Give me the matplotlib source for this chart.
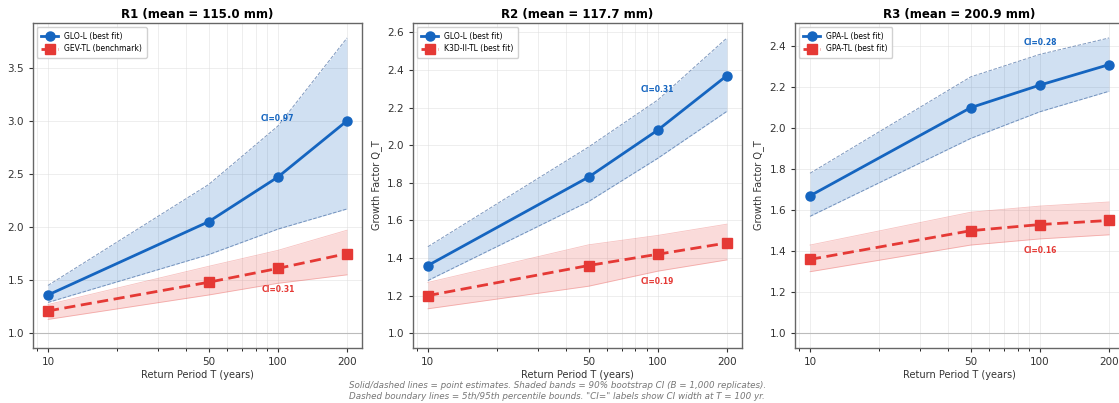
import matplotlib
matplotlib.use("Agg")
import matplotlib.pyplot as plt
from matplotlib.ticker import FixedLocator, NullFormatter, FixedFormatter

# Return periods
T = [10, 50, 100, 200]

# Panel titles / model names
titles = ["R1 (mean = 115.0 mm)", "R2 (mean = 117.7 mm)", "R3 (mean = 200.9 mm)"]
best_names = ["GLO-L (best fit)", "GLO-L (best fit)", "GPA-L (best fit)"]
other_names = ["GEV-TL (benchmark)", "K3D-II-TL (best fit)", "GPA-TL (best fit)"]

# L-moment fits (point estimate, 5th and 95th percentile)
r1_l = [1.36, 2.05, 2.47, 3.00]
r1_l_lo = [1.29, 1.74, 1.98, 2.17]
r1_l_hi = [1.45, 2.40, 2.95, 3.78]
r2_l = [1.36, 1.83, 2.08, 2.37]
r2_l_lo = [1.28, 1.70, 1.93, 2.18]
r2_l_hi = [1.46, 1.99, 2.24, 2.57]
r3_l = [1.67, 2.10, 2.21, 2.31]
r3_l_lo = [1.57, 1.95, 2.08, 2.18]
r3_l_hi = [1.78, 2.25, 2.36, 2.44]

# TL-moment fits
r1_tl = [1.21, 1.48, 1.61, 1.75]
r1_tl_lo = [1.13, 1.36, 1.47, 1.55]
r1_tl_hi = [1.27, 1.63, 1.78, 1.97]
r2_tl = [1.20, 1.36, 1.42, 1.48]
r2_tl_lo = [1.13, 1.25, 1.33, 1.39]
r2_tl_hi = [1.27, 1.47, 1.52, 1.58]
r3_tl = [1.36, 1.50, 1.53, 1.55]
r3_tl_lo = [1.30, 1.43, 1.46, 1.48]
r3_tl_hi = [1.43, 1.59, 1.62, 1.64]

l_fits = [(r1_l, r1_l_lo, r1_l_hi), (r2_l, r2_l_lo, r2_l_hi), (r3_l, r3_l_lo, r3_l_hi)]
tl_fits = [(r1_tl, r1_tl_lo, r1_tl_hi), (r2_tl, r2_tl_lo, r2_tl_hi), (r3_tl, r3_tl_lo, r3_tl_hi)]

BLUE = "#1565C0"
RED = "#E53935"

fig = plt.figure(figsize=(11.19, 4.03), dpi=100)
lefts = [0.0295, 0.369, 0.7105]

for i in range(3):
    ax = fig.add_axes([lefts[i], 0.1365, 0.294, 0.806])
    mid, lo, hi = l_fits[i]
    tmid, tlo, thi = tl_fits[i]

    ax.axhline(1.0, color="#bbbbbb", lw=0.8, zorder=1)

    ax.fill_between(T, lo, hi, color=BLUE, alpha=0.2, lw=0, zorder=2)
    ax.plot(T, lo, "--", color="#4a6fa5", alpha=0.7, lw=0.7, zorder=2)
    ax.plot(T, hi, "--", color="#4a6fa5", alpha=0.7, lw=0.7, zorder=2)
    ax.fill_between(T, tlo, thi, color=RED, alpha=0.18, lw=0, zorder=2)
    ax.plot(T, tlo, "-", color=RED, alpha=0.3, lw=0.6, zorder=2)
    ax.plot(T, thi, "-", color=RED, alpha=0.3, lw=0.6, zorder=2)

    ax.plot(T, mid, "-o", color=BLUE, lw=2, ms=6.5, label=best_names[i], zorder=4)
    ax.plot(T, tmid, "--s", color=RED, lw=2, ms=6.5, dashes=(4, 2),
            label=other_names[i], zorder=4)

    # CI width labels at T = 100
    k = T.index(100)
    ax.text(100, hi[k] * 1.025, "CI=%.2f" % (hi[k] - lo[k]), color=BLUE,
            fontsize=5.5, fontweight="bold", ha="center", va="center", zorder=5)
    ax.text(100, tlo[k] * 0.96, "CI=%.2f" % (thi[k] - tlo[k]), color=RED,
            fontsize=5.5, fontweight="bold", ha="center", va="center", zorder=5)

    ax.set_xscale("log")
    ax.xaxis.set_major_locator(FixedLocator(T))
    ax.xaxis.set_major_formatter(FixedFormatter([str(t) for t in T]))
    ax.xaxis.set_minor_formatter(NullFormatter())
    ax.grid(True, which="both", color="#dddddd", lw=0.5, alpha=0.7)
    ax.set_axisbelow(True)

    ax.set_title(titles[i], fontsize=8.5, fontweight="bold", pad=4)
    ax.set_xlabel("Return Period T (years)", fontsize=7, color="#333333", labelpad=2)
    if i > 0:
        ax.set_ylabel("Growth Factor Q_T", fontsize=7, color="#333333")
    ax.tick_params(labelsize=7.5, colors="#333333", length=3)
    ax.tick_params(which="minor", length=1.8)
    for s in ax.spines.values():
        s.set_color("#666666")
        s.set_linewidth(1.0)

    leg = ax.legend(loc="upper left", fontsize=5.5, framealpha=0.9,
                    borderpad=0.6, handlelength=2.2)
    leg.get_frame().set_edgecolor("#cccccc")

fig.text(0.498, 0.03,
         "Solid/dashed lines = point estimates. Shaded bands = 90% bootstrap CI (B = 1,000 replicates).\n"
         "Dashed boundary lines = 5th/95th percentile bounds. \"CI=\" labels show CI width at T = 100 yr.",
         ha="center", va="center", fontsize=6.3, style="italic", color="#777777",
         linespacing=1.25)

fig.savefig("out.png", dpi=100)
